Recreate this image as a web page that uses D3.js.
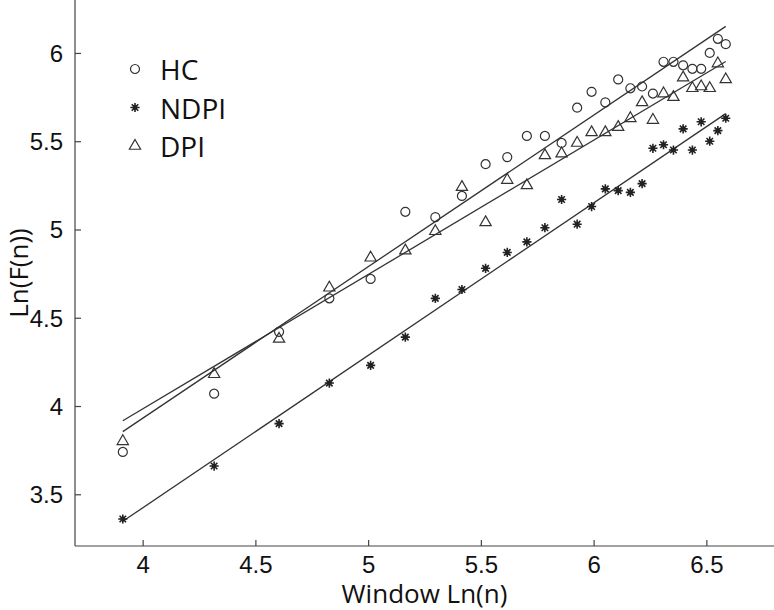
<!DOCTYPE html>
<html>
<head>
<meta charset="utf-8">
<script src="https://cdn.jsdelivr.net/npm/d3@7"></script>
<style>
  body { margin: 0; background: #fff; }
  svg { display: block; font-family: "Open Sans", sans-serif; }
</style>
</head>
<body>
<div id="chart"></div>
<script>
var lnN = [3.912, 4.317, 4.605, 4.828, 5.011, 5.165, 5.298, 5.416, 5.521, 5.617,
           5.704, 5.784, 5.858, 5.927, 5.991, 6.052, 6.109, 6.163, 6.215, 6.263,
           6.310, 6.354, 6.397, 6.438, 6.477, 6.515, 6.551, 6.586];

var hc   = [3.74, 4.07, 4.42, 4.61, 4.72, 5.10, 5.07, 5.19, 5.37, 5.41,
            5.53, 5.53, 5.49, 5.69, 5.78, 5.72, 5.85, 5.80, 5.81, 5.77,
            5.95, 5.95, 5.93, 5.91, 5.91, 6.00, 6.08, 6.05];
var ndpi = [3.36, 3.66, 3.90, 4.13, 4.23, 4.39, 4.61, 4.66, 4.78, 4.87,
            4.93, 5.01, 5.17, 5.03, 5.13, 5.23, 5.22, 5.21, 5.26, 5.46,
            5.48, 5.45, 5.57, 5.45, 5.61, 5.50, 5.56, 5.63];
var dpi  = [3.80, 4.18, 4.38, 4.67, 4.84, 4.88, 4.99, 5.24, 5.04, 5.28,
            5.25, 5.42, 5.43, 5.49, 5.55, 5.55, 5.58, 5.63, 5.72, 5.62,
            5.77, 5.75, 5.86, 5.80, 5.81, 5.80, 5.94, 5.85];

var seriesNames = ["HC", "NDPI", "DPI"];
var xTicks = [4, 4.5, 5, 5.5, 6, 6.5];
var yTicks = [3.5, 4, 4.5, 5, 5.5, 6];

var width = 774, height = 610;
var left = 75, bottom = 546;
var ink = "#333";

var svg = d3.select("#chart").append("svg")
    .attr("width", width)
    .attr("height", height);

var x = d3.scaleLinear().domain([3.7, 6.8]).range([left, width]);
var y = d3.scaleLinear().domain([3.207, 6.3]).range([bottom, 0]);

// axes, ticks pointing inward
var xAxis = svg.append("g")
    .attr("transform", "translate(0," + bottom + ")")
    .call(d3.axisTop(x).tickValues(xTicks).tickSize(6).tickFormat(d3.format("")));
xAxis.select(".domain").attr("d", "M" + left + ",0H" + width);
xAxis.selectAll("text")
    .attr("y", 27)
    .attr("dy", 0)
    .style("font-size", "24px")
    .attr("fill", "#111");

var yAxis = svg.append("g")
    .attr("transform", "translate(" + left + ",0)")
    .call(d3.axisRight(y).tickValues(yTicks).tickSize(6).tickFormat(d3.format("")));
yAxis.select(".domain").attr("d", "M0,0V" + bottom);
yAxis.selectAll("text")
    .attr("x", -12)
    .attr("dy", "0.35em")
    .attr("text-anchor", "end")
    .style("font-size", "24px")
    .attr("fill", "#111");

svg.selectAll(".domain, .tick line")
    .attr("stroke", "#444")
    .attr("stroke-width", 1.2);

// axis titles
svg.append("text")
    .attr("x", (left + width) / 2)
    .attr("y", 603)
    .attr("text-anchor", "middle")
    .style("font-size", "26px")
    .attr("fill", "#111")
    .text("Window Ln(n)");

svg.append("text")
    .attr("transform", "translate(28," + (bottom / 2) + ") rotate(-90)")
    .attr("text-anchor", "middle")
    .style("font-size", "26px")
    .attr("fill", "#111")
    .text("Ln(F(n))");

// least squares fit
function fit(xs, ys) {
    var mx = d3.mean(xs), my = d3.mean(ys);
    var sxy = d3.sum(xs, function (v, i) { return (v - mx) * (ys[i] - my); });
    var sxx = d3.sum(xs, function (v) { return (v - mx) * (v - mx); });
    var b = sxy / sxx;
    return { a: my - b * mx, b: b };
}

function starPath(r) {
    var p = "";
    for (var k = 0; k < 4; k++) {
        var t = k * Math.PI / 4;
        var dx = r * Math.cos(t), dy = r * Math.sin(t);
        p += "M" + (-dx) + "," + (-dy) + "L" + dx + "," + dy;
    }
    return p;
}

var circlePath = d3.symbol().type(d3.symbolCircle).size(64)();
var trianglePath = d3.symbol().type(d3.symbolTriangle).size(55)();
var shapes = { HC: circlePath, NDPI: starPath(4.6), DPI: trianglePath };
var values = { HC: hc, NDPI: ndpi, DPI: dpi };

var line = d3.line()
    .x(function (d) { return x(d[0]); })
    .y(function (d) { return y(d[1]); });

seriesNames.forEach(function (name) {
    var vals = values[name];
    var f = fit(lnN, vals);
    var x0 = lnN[0], x1 = lnN[lnN.length - 1];
    svg.append("path")
        .attr("d", line([[x0, f.a + f.b * x0], [x1, f.a + f.b * x1]]))
        .attr("fill", "none")
        .attr("stroke", ink)
        .attr("stroke-width", 1.3);
});

function drawMarker(g, name) {
    if (name === "NDPI") {
        g.append("path").attr("d", shapes.NDPI)
            .attr("stroke", "#222").attr("stroke-width", 1.6).attr("fill", "none");
        g.append("circle").attr("r", 2.4).attr("fill", "#222");
    } else {
        g.append("path").attr("d", shapes[name])
            .attr("stroke", ink).attr("stroke-width", 1.2).attr("fill", "none");
    }
}

seriesNames.forEach(function (name) {
    svg.append("g").selectAll("g")
        .data(values[name])
        .enter()
        .append("g")
        .attr("transform", function (d, i) { return "translate(" + x(lnN[i]) + "," + y(d) + ")"; })
        .each(function () { drawMarker(d3.select(this), name); });
});

// legend
var legend = svg.append("g").attr("transform", "translate(135,69)");
seriesNames.forEach(function (name, i) {
    var row = legend.append("g").attr("transform", "translate(0," + (i * 38.5) + ")");
    drawMarker(row.append("g"), name);
    row.append("text")
        .attr("x", 25)
        .attr("y", 11)
        .style("font-size", "28px")
        .attr("fill", "#111")
        .text(name);
});
</script>
</body>
</html>
